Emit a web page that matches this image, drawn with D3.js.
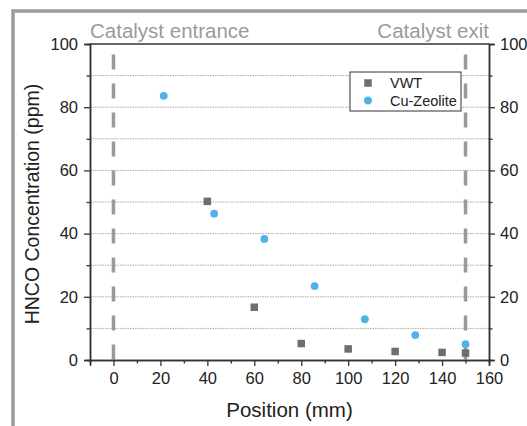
<!DOCTYPE html>
<html>
<head>
<meta charset="utf-8">
<script src="https://cdn.jsdelivr.net/npm/d3@7"></script>
<style>
  body { margin: 0; background: #fff; }
  svg { font-family: "Liberation Sans", Arial, sans-serif; }
</style>
</head>
<body>
<svg id="chart" width="527" height="426"></svg>
<script>
// data
var vwtPos = [40, 60, 80, 100, 120, 140, 150];
var vwtHnco = [50.2, 16.7, 5.2, 3.5, 2.7, 2.4, 2.2];
var cuPos = [21.4, 42.9, 64.3, 85.7, 107.1, 128.6, 150];
var cuHnco = [83.6, 46.3, 38.3, 23.4, 12.9, 7.9, 5.0];
var seriesNames = ["VWT", "Cu-Zeolite"];
var xMajor = [0, 20, 40, 60, 80, 100, 120, 140, 160];
var xMinor = [-10, 10, 30, 50, 70, 90, 110, 130, 150];
var yMajor = [0, 20, 40, 60, 80, 100];
var yMinor = [10, 30, 50, 70, 90];
var markerPos = [0, 150];
var markerLabels = ["Catalyst entrance", "Catalyst exit"];

var svg = d3.select("#chart");
var L = 90, R = 489, T = 44, B = 360;

var x = d3.scaleLinear().domain([-10, 160]).range([L, R]);
var y = d3.scaleLinear().domain([0, 100]).range([B, T]);

// outer frame (only left and top visible)
svg.append("path")
    .attr("d", "M13,426 L13,11 L527,11")
    .attr("fill", "none")
    .attr("stroke", "#9b9b9b")
    .attr("stroke-width", 3.5);

// dotted grid
svg.append("g")
    .selectAll("line")
    .data(d3.range(10, 100, 10))
    .enter()
    .append("line")
    .attr("x1", L).attr("x2", R)
    .attr("y1", d => y(d)).attr("y2", d => y(d))
    .attr("stroke", "#a8a8a8")
    .attr("stroke-width", 1)
    .attr("stroke-dasharray", "1.5,1");

// catalyst dashed markers
svg.append("g")
    .selectAll("line")
    .data(markerPos)
    .enter()
    .append("line")
    .attr("x1", d => x(d)).attr("x2", d => x(d))
    .attr("y1", y(96.7)).attr("y2", y(0))
    .attr("stroke", "#9a9a9a")
    .attr("stroke-width", 3.5)
    .attr("stroke-dasharray", "15,14");

svg.append("text")
    .attr("x", L).attr("y", 38)
    .attr("fill", "#9a9a9a")
    .style("font-size", "20.5px")
    .text(markerLabels[0]);
svg.append("text")
    .attr("x", R).attr("y", 38)
    .attr("text-anchor", "end")
    .attr("fill", "#9a9a9a")
    .style("font-size", "20.5px")
    .text(markerLabels[1]);

// axes
function styleAxis(g){
    g.select(".domain").attr("stroke", "#333").attr("stroke-width", 1.5);
    g.selectAll(".tick line").attr("stroke", "#333").attr("stroke-width", 1.3);
    g.selectAll(".tick text").attr("fill", "#222").style("font-size", "16.5px")
	.style("font-family", "'Liberation Sans', Arial, sans-serif");
}

svg.append("g")
    .attr("transform", "translate(0," + B + ")")
    .call(d3.axisBottom(x).tickValues(xMajor).tickSize(6).tickPadding(6).tickFormat(d3.format("d")))
    .call(styleAxis);
svg.append("g")
    .attr("transform", "translate(0," + B + ")")
    .call(d3.axisBottom(x).tickValues(xMinor).tickSize(3.5).tickFormat(""))
    .call(styleAxis);

svg.append("g")
    .attr("transform", "translate(" + L + ",0)")
    .call(d3.axisLeft(y).tickValues(yMajor).tickSize(6).tickPadding(6).tickFormat(d3.format("d")))
    .call(styleAxis);
svg.append("g")
    .attr("transform", "translate(" + L + ",0)")
    .call(d3.axisLeft(y).tickValues(yMinor).tickSize(3.5).tickFormat(""))
    .call(styleAxis);

svg.append("g")
    .attr("transform", "translate(" + R + ",0)")
    .call(d3.axisRight(y).tickValues(yMajor).tickSize(6).tickPadding(5).tickFormat(d3.format("d")))
    .call(styleAxis);
svg.append("g")
    .attr("transform", "translate(" + R + ",0)")
    .call(d3.axisRight(y).tickValues(yMinor).tickSize(3.5).tickFormat(""))
    .call(styleAxis);

// top frame line
svg.append("line")
    .attr("x1", L).attr("x2", R)
    .attr("y1", T).attr("y2", T)
    .attr("stroke", "#333").attr("stroke-width", 1.5);

// axis titles
svg.append("text")
    .attr("x", (L + R) / 2).attr("y", 417)
    .attr("text-anchor", "middle")
    .attr("fill", "#222")
    .style("font-size", "20.5px")
    .text("Position (mm)");
svg.append("text")
    .attr("transform", "translate(39," + ((T + B) / 2 + 2) + ") rotate(-90)")
    .attr("text-anchor", "middle")
    .attr("fill", "#222")
    .style("font-size", "19.5px")
    .text("HNCO Concentration (ppm)");

// points
var vwt = vwtPos.map((p, i) => ({x: p, y: vwtHnco[i]}));
var cu = cuPos.map((p, i) => ({x: p, y: cuHnco[i]}));
var sq = 7.5;

svg.append("g")
    .selectAll("rect")
    .data(vwt)
    .enter()
    .append("rect")
    .attr("x", d => x(d.x) - sq / 2)
    .attr("y", d => y(d.y) - sq / 2)
    .attr("width", sq).attr("height", sq)
    .attr("fill", "#6e6e70");

svg.append("g")
    .selectAll("circle")
    .data(cu)
    .enter()
    .append("circle")
    .attr("cx", d => x(d.x))
    .attr("cy", d => y(d.y))
    .attr("r", 3.9)
    .attr("fill", "#4fb3e8");

// legend
var lg = svg.append("g").attr("transform", "translate(350,72)");
lg.append("rect")
    .attr("width", 111).attr("height", 39)
    .attr("fill", "#fff")
    .attr("stroke", "#333").attr("stroke-width", 1);
lg.append("rect")
    .attr("x", 18 - sq / 2).attr("y", 11 - sq / 2)
    .attr("width", sq).attr("height", sq)
    .attr("fill", "#6e6e70");
lg.append("circle")
    .attr("cx", 18).attr("cy", 28.5).attr("r", 3.9)
    .attr("fill", "#4fb3e8");
lg.selectAll("text")
    .data(seriesNames)
    .enter()
    .append("text")
    .attr("x", 40)
    .attr("y", (d, i) => 15.5 + i * 18.5)
    .attr("fill", "#222")
    .style("font-size", "14.5px")
    .text(d => d);
</script>
</body>
</html>
